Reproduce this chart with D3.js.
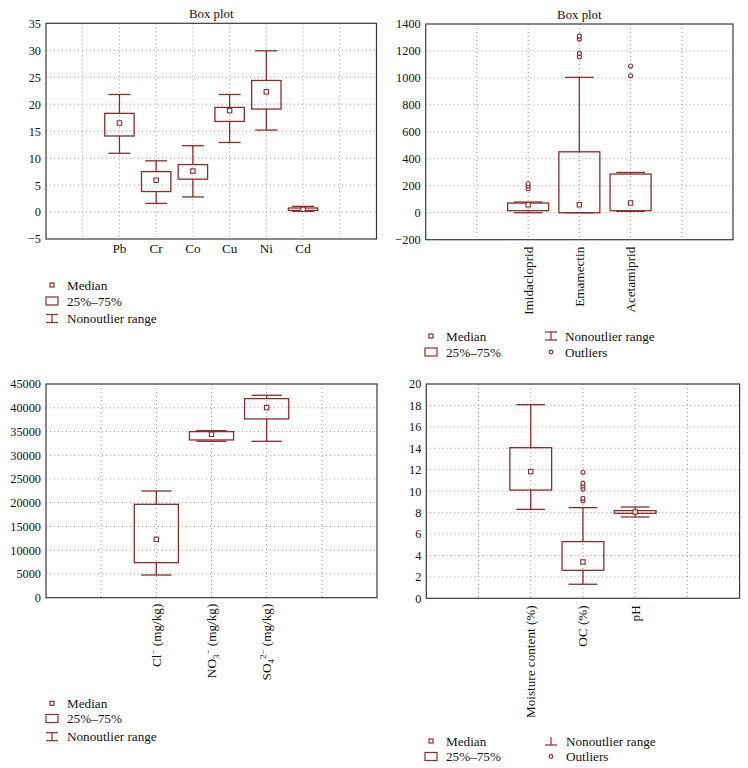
<!DOCTYPE html>
<html>
<head>
<meta charset="utf-8">
<script src="https://cdn.jsdelivr.net/npm/d3@7"></script>
<style>
  html, body { margin: 0; padding: 0; background: #fff; }
  svg { display: block; }
</style>
</head>
<body>
<svg id="chart" width="748" height="768"></svg>
<script>
// ---------- DATA ----------
// Panel 1: heavy metals
const metalNames = ["Pb", "Cr", "Co", "Cu", "Ni", "Cd"];
const metalMin = [10.9, 1.6, 2.8, 12.9, 15.2, 0.12];
const metalQ1  = [14.1, 3.8, 6.1, 16.8, 19.1, 0.3];
const metalMed = [16.5, 5.9, 7.6, 18.8, 22.3, 0.5];
const metalQ3  = [18.3, 7.5, 8.8, 19.4, 24.4, 0.75];
const metalMax = [21.8, 9.5, 12.3, 21.8, 29.9, 1.05];
const metalTicks = [-5, 0, 5, 10, 15, 20, 25, 30, 35];

// Panel 2: pesticides
const pestNames = ["Imidacloprid", "Emamectin", "Acetamiprid"];
const pestMin = [0, 0, 10];
const pestQ1  = [15, 0, 15];
const pestMed = [59, 59, 72];
const pestQ3  = [72, 452, 287];
const pestMax = [79, 1004, 299];
const pestOutliers = [[178, 198, 215], [1157, 1182, 1288, 1310], [1016, 1088]];
const pestTicks = [-200, 0, 200, 400, 600, 800, 1000, 1200, 1400];

// Panel 3: anions
const anionLabelParts = [
  [["Cl", ""], ["−", "sup"], [" (mg/kg)", ""]],
  [["NO", ""], ["3", "sub"], ["−", "sup"], [" (mg/kg)", ""]],
  [["SO", ""], ["4", "sub"], ["2−", "sup"], [" (mg/kg)", ""]]
];
const anionMin = [4775, 32935, 32935];
const anionQ1  = [7374, 33216, 37640];
const anionMed = [12290, 34410, 40028];
const anionQ3  = [19663, 34972, 41924];
const anionMax = [22472, 35183, 42626];
const anionTicks = [0, 5000, 10000, 15000, 20000, 25000, 30000, 35000, 40000, 45000];

// Panel 4: soil properties
const soilNames = ["Moisture content (%)", "OC (%)", "pH"];
const soilMin = [8.3, 1.31, 7.59];
const soilQ1  = [10.1, 2.61, 7.93];
const soilMed = [11.82, 3.39, 8.06];
const soilQ3  = [14.06, 5.29, 8.18];
const soilMax = [18.07, 8.46, 8.52];
const soilOutliers = [[], [9.1, 9.33, 10.2, 10.48, 10.73, 11.76], []];
const soilTicks = [0, 2, 4, 6, 8, 10, 12, 14, 16, 18, 20];

const legendLabels = ["Median", "25%–75%", "Nonoutlier range", "Outliers"];

// ---------- DRAWING ----------
const RED = "#8e2b2b";
const FRAME = "#3a3a3a";
const SERIF = "'Liberation Serif', 'Times New Roman', serif";
const svg = d3.select("#chart");
svg.append("rect").attr("width", 748).attr("height", 768).attr("fill", "#fff");

const fmt = v => (v < 0 ? "−" + Math.abs(v) : String(v));

function panel(cfg) {
  const g = svg.append("g");
  const x = d3.scaleLinear().domain([0, cfg.slots]).range([cfg.x0, cfg.x1]);
  const y = d3.scaleLinear().domain([cfg.ticks[0], cfg.ticks[cfg.ticks.length - 1]]).range([cfg.y1, cfg.y0]);
  const step = x(1) - x(0);

  // grid
  g.selectAll(".hg").data(cfg.ticks.slice(1, -1)).join("line")
    .attr("x1", cfg.x0).attr("x2", cfg.x1)
    .attr("y1", d => y(d)).attr("y2", d => y(d))
    .attr("stroke", "#8a8a8a").attr("stroke-width", 0.9).attr("stroke-dasharray", "1,3");
  g.selectAll(".vg").data(d3.range(1, cfg.slots)).join("line")
    .attr("x1", d => x(d)).attr("x2", d => x(d))
    .attr("y1", cfg.y0).attr("y2", cfg.y1)
    .attr("stroke", "#8a8a8a").attr("stroke-width", 0.9).attr("stroke-dasharray", "1,3");

  // y axis labels
  const ax = g.append("g").attr("transform", `translate(${cfg.x0},0)`)
    .call(d3.axisLeft(y).tickValues(cfg.ticks).tickSize(0).tickPadding(5).tickFormat(fmt));
  ax.select(".domain").remove();
  ax.selectAll("text").attr("font-family", SERIF).attr("font-size", 12.3).attr("fill", "#111");

  // frame
  g.append("rect").attr("x", cfg.x0).attr("y", cfg.y0)
    .attr("width", cfg.x1 - cfg.x0).attr("height", cfg.y1 - cfg.y0)
    .attr("fill", "none").attr("stroke", FRAME).attr("stroke-width", 1.2);

  // title
  if (cfg.title) {
    g.append("text").attr("x", (cfg.x0 + cfg.x1) / 2).attr("y", cfg.y0 - 5)
      .attr("text-anchor", "middle").attr("font-family", SERIF).attr("font-size", 12.8)
      .attr("fill", "#111").text(cfg.title);
  }

  const n = cfg.min.length;
  const bw = step * 0.8, cw = step * cfg.capFrac;
  for (let i = 0; i < n; i++) {
    const cx = x(i + cfg.first);
    const bg = g.append("g").attr("stroke", RED).attr("fill", "none").attr("stroke-width", 1.3);
    bg.append("line").attr("x1", cx).attr("x2", cx).attr("y1", y(cfg.max[i])).attr("y2", y(cfg.q3[i]));
    bg.append("line").attr("x1", cx).attr("x2", cx).attr("y1", y(cfg.q1[i])).attr("y2", y(cfg.min[i]));
    bg.append("line").attr("x1", cx - cw / 2).attr("x2", cx + cw / 2).attr("y1", y(cfg.max[i])).attr("y2", y(cfg.max[i]));
    bg.append("line").attr("x1", cx - cw / 2).attr("x2", cx + cw / 2).attr("y1", y(cfg.min[i])).attr("y2", y(cfg.min[i]));
    bg.append("rect").attr("x", cx - bw / 2).attr("y", y(cfg.q3[i]))
      .attr("width", bw).attr("height", Math.max(0.5, y(cfg.q1[i]) - y(cfg.q3[i])));
    bg.append("rect").attr("x", cx - 2.2).attr("y", y(cfg.med[i]) - 2.2)
      .attr("width", 4.4).attr("height", 4.4).attr("fill", "#fff").attr("stroke-width", 1.1);
    if (cfg.outliers) {
      bg.selectAll("circle").data(cfg.outliers[i]).join("circle")
        .attr("cx", cx).attr("cy", d => y(d)).attr("r", 2).attr("fill", "#fff").attr("stroke-width", 1.1);
    }
  }

  // category labels
  if (cfg.rotated) {
    cfg.labels.forEach((parts, i) => {
      const cx = x(i + cfg.first);
      const t = g.append("text")
        .attr("transform", `translate(${cx + 4.5},${cfg.y1 + cfg.labelGap}) rotate(-90)`)
        .attr("text-anchor", "end").attr("font-family", SERIF).attr("font-size", 13.2).attr("fill", "#111");
      if (typeof parts === "string") { t.text(parts); return; }
      let cur = 0;
      parts.forEach(([s, kind]) => {
        const target = kind === "sup" ? -5 : kind === "sub" ? 3 : 0;
        t.append("tspan").attr("dy", target - cur)
          .attr("font-size", kind ? 9 : 13.2).text(s);
        cur = target;
      });
    });
  } else {
    cfg.labels.forEach((s, i) => {
      g.append("text").attr("x", x(i + cfg.first)).attr("y", cfg.y1 + 14)
        .attr("text-anchor", "middle").attr("font-family", SERIF).attr("font-size", 13.2)
        .attr("fill", "#111").text(s);
    });
  }
}

function legendMarker(g, kind, cx, cy, variant) {
  const m = g.append("g").attr("stroke", RED).attr("fill", "none").attr("stroke-width", 1.2);
  if (kind === 0) {
    m.append("rect").attr("x", cx - 2).attr("y", cy - 2).attr("width", 4).attr("height", 4);
  } else if (kind === 1) {
    m.append("rect").attr("x", cx - 6).attr("y", cy - 4).attr("width", 12).attr("height", 8);
  } else if (kind === 2) {
    if (variant !== "inv") m.append("line").attr("x1", cx - 6).attr("x2", cx + 6).attr("y1", cy - 4).attr("y2", cy - 4);
    m.append("line").attr("x1", cx - 6).attr("x2", cx + 6).attr("y1", cy + 4).attr("y2", cy + 4);
    m.append("line").attr("x1", cx).attr("x2", cx).attr("y1", cy - 4).attr("y2", cy + 4);
  } else {
    m.append("circle").attr("cx", cx).attr("cy", cy).attr("r", 1.8);
  }
}

function legend(items) {
  const g = svg.append("g");
  items.forEach(it => {
    legendMarker(g, it.k, it.mx, it.y, it.variant);
    g.append("text").attr("x", it.tx).attr("y", it.y + 4.5)
      .attr("font-family", SERIF).attr("font-size", 13.2).attr("fill", "#111")
      .text(legendLabels[it.k]);
  });
}

panel({ x0: 46, x1: 376.5, y0: 23.3, y1: 239, slots: 9, first: 2, ticks: metalTicks,
  min: metalMin, q1: metalQ1, med: metalMed, q3: metalQ3, max: metalMax,
  capFrac: 0.6, title: "Box plot", labels: metalNames, rotated: false });

panel({ x0: 425.7, x1: 733, y0: 24, y1: 239.7, slots: 6, first: 2, ticks: pestTicks,
  min: pestMin, q1: pestQ1, med: pestMed, q3: pestQ3, max: pestMax, outliers: pestOutliers,
  capFrac: 0.56, title: "Box plot", labels: pestNames, rotated: true, labelGap: 7 });

panel({ x0: 46, x1: 377, y0: 384, y1: 597.7, slots: 6, first: 2, ticks: anionTicks,
  min: anionMin, q1: anionQ1, med: anionMed, q3: anionQ3, max: anionMax,
  capFrac: 0.55, labels: anionLabelParts, rotated: true, labelGap: 6 });

panel({ x0: 426.3, x1: 739.6, y0: 384, y1: 598.3, slots: 6, first: 2, ticks: soilTicks,
  min: soilMin, q1: soilQ1, med: soilMed, q3: soilQ3, max: soilMax, outliers: soilOutliers,
  capFrac: 0.55, labels: soilNames, rotated: true, labelGap: 7 });

legend([
  { k: 0, mx: 52, tx: 67, y: 285 },
  { k: 1, mx: 52, tx: 67, y: 301 },
  { k: 2, mx: 52, tx: 67, y: 318.5 }
]);
legend([
  { k: 0, mx: 431, tx: 446, y: 336 },
  { k: 1, mx: 431, tx: 446, y: 352 },
  { k: 2, mx: 551, tx: 565, y: 336 },
  { k: 3, mx: 551, tx: 565, y: 352 }
]);
legend([
  { k: 0, mx: 52, tx: 67, y: 703.3 },
  { k: 1, mx: 52, tx: 67, y: 718.5 },
  { k: 2, mx: 52, tx: 67, y: 736.7 }
]);
legend([
  { k: 0, mx: 431, tx: 446, y: 741 },
  { k: 1, mx: 431, tx: 446, y: 756.5 },
  { k: 2, mx: 551, tx: 566, y: 741, variant: "inv" },
  { k: 3, mx: 551, tx: 566, y: 756.5 }
]);
</script>
</body>
</html>
